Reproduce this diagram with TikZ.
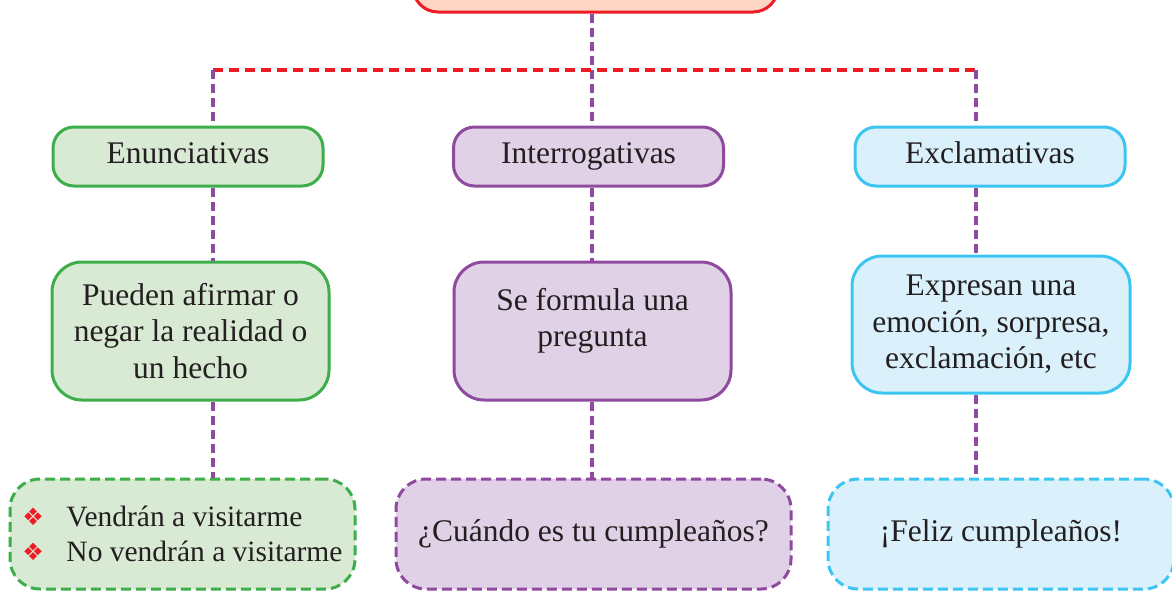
\documentclass[tikz,border=0pt]{standalone}
\usepackage{fontspec}
\setmainfont{Liberation Serif}
\newfontfamily\symfnt{DejaVu Sans}
\definecolor{cred}{HTML}{ED1C24}
\definecolor{forange}{HTML}{FCD5C3}
\definecolor{cgreen}{HTML}{3DAE49}
\definecolor{fgreen}{HTML}{D9EAD4}
\definecolor{cpurple}{HTML}{8E4A9E}
\definecolor{fpurple}{HTML}{E0D1E6}
\definecolor{ccyan}{HTML}{3CC5F0}
\definecolor{fcyan}{HTML}{DAF1FC}
\definecolor{txt}{HTML}{231F20}
\newcommand{\bul}{\makebox[44pt][l]{\raisebox{1pt}{\textcolor{cred}{\symfnt\fontsize{24}{24}\selectfont ❖}}}}
\tikzset{
  base/.style={line width=3pt, inner sep=0pt, align=center, text=txt,
    font=\fontsize{31.5}{36.5}\selectfont},
  gbox/.style={base, draw=cgreen, fill=fgreen},
  pbox/.style={base, draw=cpurple, fill=fpurple},
  cbox/.style={base, draw=ccyan, fill=fcyan},
  lvltwo/.style={minimum width=270pt, minimum height=59pt, rounded corners=21pt, text height=21pt, text depth=7pt},
  lvlthree/.style={minimum width=277pt, minimum height=138pt, rounded corners=30pt},
  lvlfour/.style={minimum height=110pt, rounded corners=30pt, dash pattern=on 10pt off 5pt},
  conn/.style={draw=cpurple, line width=3.2pt, dash pattern=on 9pt off 5pt},
  hconn/.style={draw=cred, line width=3.2pt, dash pattern=on 10pt off 6pt},
}
\begin{document}
\begin{tikzpicture}[x=1pt,y=-1pt]
\useasboundingbox (0,0) rectangle (1172,590);
\clip (0,0) rectangle (1172,590);
% top box
\node[base, draw=cred, fill=forange, minimum width=365pt, minimum height=60pt, rounded corners=25pt] (top) at (595.5,-18) {};
% level 2
\node[gbox, lvltwo] (e2) at (188,156.5) {Enunciativas};
\node[pbox, lvltwo] (i2) at (588.5,156.5) {Interrogativas};
\node[cbox, lvltwo] (x2) at (990,156.5) {Exclamativas};
% level 3
\node[gbox, lvlthree] (e3) at (190.5,331) {Pueden afirmar o\\negar la realidad o\\un hecho};
\node[pbox, lvlthree, text depth=27pt] (i3) at (592.5,331) {Se formula una\\pregunta};
\node[cbox, lvlthree, minimum width=278pt, minimum height=137pt] (x3) at (991,324.5) {Expresan una\\emoción, sorpresa,\\exclamación, etc};
% level 4
\node[gbox, lvlfour, minimum width=345pt, align=left, font=\fontsize{29.5}{35}\selectfont] (e4) at (182.5,534) {\bul Vendrán a visitarme\\\bul No vendrán a visitarme};
\node[pbox, lvlfour, minimum width=395pt] (i4) at (593.5,534) {¿Cuándo es tu cumpleaños?};
\node[cbox, lvlfour, minimum width=346pt] (x4) at (1001,534) {¡Feliz cumpleaños!};
% connectors
\coordinate (hl) at (213,70);
\coordinate (hm) at (592,70);
\coordinate (hr) at (976,70);
\draw[conn] (top.south -| hm) -- (hm |- i2.north);
\draw[hconn] (hl) -- (hr);
\draw[conn] (hl) -- (hl |- e2.north);
\draw[conn] (hr) -- (hr |- x2.north);
\draw[conn] (hl |- e2.south) -- (hl |- e3.north);
\draw[conn] (hm |- i2.south) -- (hm |- i3.north);
\draw[conn] (hr |- x2.south) -- (hr |- x3.north);
\draw[conn] (hl |- e3.south) -- (hl |- e4.north);
\draw[conn] (hm |- i3.south) -- (hm |- i4.north);
\draw[conn] (hr |- x3.south) -- (hr |- x4.north);
\end{tikzpicture}
\end{document}
